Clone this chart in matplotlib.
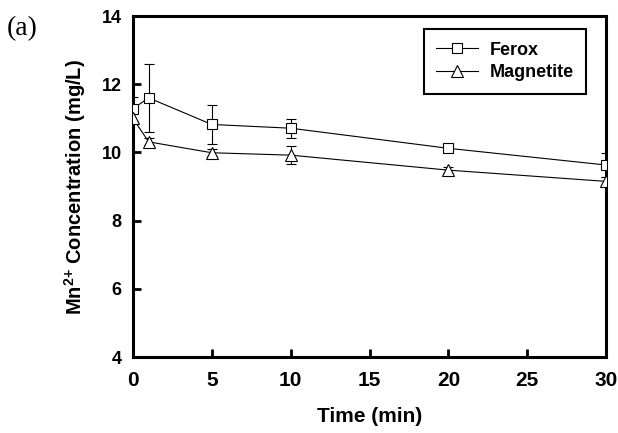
import matplotlib
matplotlib.use("Agg")
from matplotlib import pyplot as plt
from matplotlib.lines import Line2D

time = [0, 1, 5, 10, 20, 30]
ferox = [11.28, 11.6, 10.82, 10.71, 10.12, 9.63]
ferox_err = [0.35, 1.0, 0.57, 0.28, 0.08, 0.35]
magnetite = [11.0, 10.31, 9.99, 9.92, 9.48, 9.15]
magnetite_err = [0.15, 0.1, 0.1, 0.26, 0.08, 0.12]

plt.rcParams['font.family'] = ['Liberation Sans', 'DejaVu Sans']
plt.rcParams['mathtext.fontset'] = 'custom'
plt.rcParams['mathtext.rm'] = 'Liberation Sans:bold'
plt.rcParams['mathtext.bf'] = 'Liberation Sans:bold'
plt.rcParams['mathtext.default'] = 'bf'

fig = plt.figure(figsize=(6.18, 4.33), dpi=100)
ax = fig.add_axes([0.215, 0.1755, 0.766, 0.7875])

style = dict(color="black", lw=0.8, mfc="white", mec="black", mew=0.8,
             capsize=3.6, elinewidth=0.8, capthick=0.8, zorder=3)
ax.errorbar(time, ferox, yerr=ferox_err, marker="s", ms=7, **style)
ax.errorbar(time, magnetite, yerr=magnetite_err, marker="^", ms=8, **style)

ax.set_xlim(0, 30)
ax.set_ylim(4, 14)
ax.set_xticks([0, 5, 10, 15, 20, 25, 30])
ax.set_yticks([4, 6, 8, 10, 12, 14])
ax.tick_params(direction="in", length=6, width=2)
ax.tick_params(axis="x", labelsize=15, pad=10)
ax.tick_params(axis="y", labelsize=13, pad=8)
for lab in ax.get_xticklabels() + ax.get_yticklabels():
    lab.set_fontweight("bold")
for s in ax.spines.values():
    s.set_linewidth(2.2)

ax.set_xlabel("Time (min)", fontsize=15, fontweight="bold", labelpad=12)
ax.set_ylabel("Mn$^{2{+}}$ Concentration (mg/L)", fontsize=14.5,
              fontweight="bold", labelpad=10)

handles = [
    Line2D([], [], color="black", lw=0.8, marker="s", ms=7, mfc="white", mec="black", mew=0.8),
    Line2D([], [], color="black", lw=0.8, marker="^", ms=8, mfc="white", mec="black", mew=0.8),
]
leg = ax.legend(handles, ["Ferox", "Magnetite"], loc="upper right",
                bbox_to_anchor=(0.958, 0.962), borderaxespad=0,
                prop={"weight": "bold", "size": 13}, fancybox=False,
                edgecolor="black", framealpha=1, handlelength=2.3,
                handletextpad=0.65, borderpad=0.7, labelspacing=0.3)
leg.get_frame().set_linewidth(1.5)

fig.text(0.011, 0.935, "(a)", fontsize=20, va="center",
         family=["Liberation Serif", "DejaVu Serif"])

fig.savefig("out.png", dpi=100)
